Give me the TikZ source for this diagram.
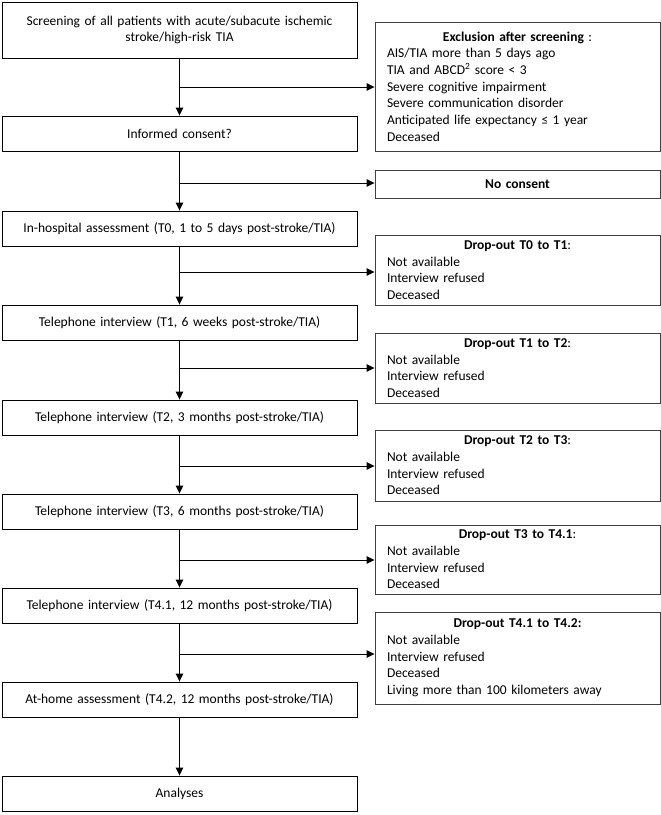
\documentclass[tikz,border=0pt]{standalone}
\usepackage{fontspec}
\setmainfont{Carlito}
\usetikzlibrary{arrows.meta}
\begin{document}
\begin{tikzpicture}[x=1pt,y=-1pt,
  txt/.style={font=\fontsize{13.5}{16.7}\selectfont},
  lbox/.style={txt, draw=black, line width=0.9pt, text width=345pt, inner xsep=5pt, inner ysep=0pt, align=center},
  rbox/.style={txt, draw=black!75, line width=0.9pt, text width=261pt, inner xsep=12pt, inner ysep=0pt},
  arr/.style={-{Triangle[length=8pt,width=7.5pt]}, line width=0.9pt}]
\path[use as bounding box] (0,0) rectangle (661,815);

% left column
\node[lbox, minimum height=56pt] (s) at (179.5,30) {Screening of all patients with acute/subacute ischemic\\ stroke/high-risk TIA};
\node[lbox, minimum height=35pt] (c) at (179.5,133.5) {Informed consent?};
\node[lbox, minimum height=35pt] (h) at (179.5,228.5) {In-hospital assessment (T0, 1 to 5 days post-stroke/TIA)};
\node[lbox, minimum height=35pt] (t1) at (179.5,322.5) {Telephone interview (T1, 6 weeks post-stroke/TIA)};
\node[lbox, minimum height=35pt] (t2) at (179.5,417.5) {Telephone interview (T2, 3 months post-stroke/TIA)};
\node[lbox, minimum height=35pt] (t3) at (179.5,511.5) {Telephone interview (T3, 6 months post-stroke/TIA)};
\node[lbox, minimum height=35pt] (t41) at (179.5,605.5) {Telephone interview (T4.1, 12 months post-stroke/TIA)};
\node[lbox, minimum height=35pt] (t42) at (179.5,699.5) {At-home assessment (T4.2, 12 months post-stroke/TIA)};
\node[lbox, minimum height=35pt] (an) at (179.5,793.5) {Analyses};

% right column
\node[rbox, minimum height=129pt] (ex) at (517.5,86.5) {\centering\textbf{Exclusion after screening} :\par\raggedright
AIS/TIA more than 5 days ago\\
TIA and ABCD\textsuperscript{2} score < 3\\
Severe cognitive impairment\\
Severe communication disorder\\
Anticipated life expectancy ≤ 1 year\\
Deceased};
\node[rbox, minimum height=28pt] (nc) at (517.5,184) {\centering\textbf{No consent}\par};
\node[rbox, minimum height=70pt] (d0) at (517.5,270) {\centering\textbf{Drop-out T0 to T1}:\par\raggedright
Not available\\ Interview refused\\ Deceased};
\node[rbox, minimum height=70pt] (d1) at (517.5,368) {\centering\textbf{Drop-out T1 to T2}:\par\raggedright
Not available\\ Interview refused\\ Deceased};
\node[rbox, minimum height=71pt] (d2) at (517.5,465.5) {\centering\textbf{Drop-out T2 to T3}:\par\raggedright
Not available\\ Interview refused\\ Deceased};
\node[rbox, minimum height=69pt] (d3) at (517.5,559.5) {\centering\textbf{Drop-out T3 to T4.1}:\par\raggedright
Not available\\ Interview refused\\ Deceased};
\node[rbox, minimum height=92pt] (d4) at (517.5,658) {\centering\textbf{Drop-out T4.1 to T4.2:}\par\raggedright
Not available\\ Interview refused\\ Deceased\\ Living more than 100 kilometers away};

% junctions
\coordinate (j1) at (179.5,87);
\coordinate (j2) at (179.5,183);
\coordinate (j3) at (179.5,272);
\coordinate (j4) at (179.5,368);
\coordinate (j5) at (179.5,466);
\coordinate (j6) at (179.5,560);
\coordinate (j7) at (179.5,654);

% main flow
\draw[arr] (s) -- (c);
\draw[arr] (c) -- (h);
\draw[arr] (h) -- (t1);
\draw[arr] (t1) -- (t2);
\draw[arr] (t2) -- (t3);
\draw[arr] (t3) -- (t41);
\draw[arr] (t41) -- (t42);
\draw[arr] (t42) -- (an);

% branches
\draw[arr] (j1) -- (j1 -| ex.west);
\draw[arr] (j2) -- (j2 -| nc.west);
\draw[arr] (j3) -- (j3 -| d0.west);
\draw[arr] (j4) -- (j4 -| d1.west);
\draw[arr] (j5) -- (j5 -| d2.west);
\draw[arr] (j6) -- (j6 -| d3.west);
\draw[arr] (j7) -- (j7 -| d4.west);
\end{tikzpicture}
\end{document}
